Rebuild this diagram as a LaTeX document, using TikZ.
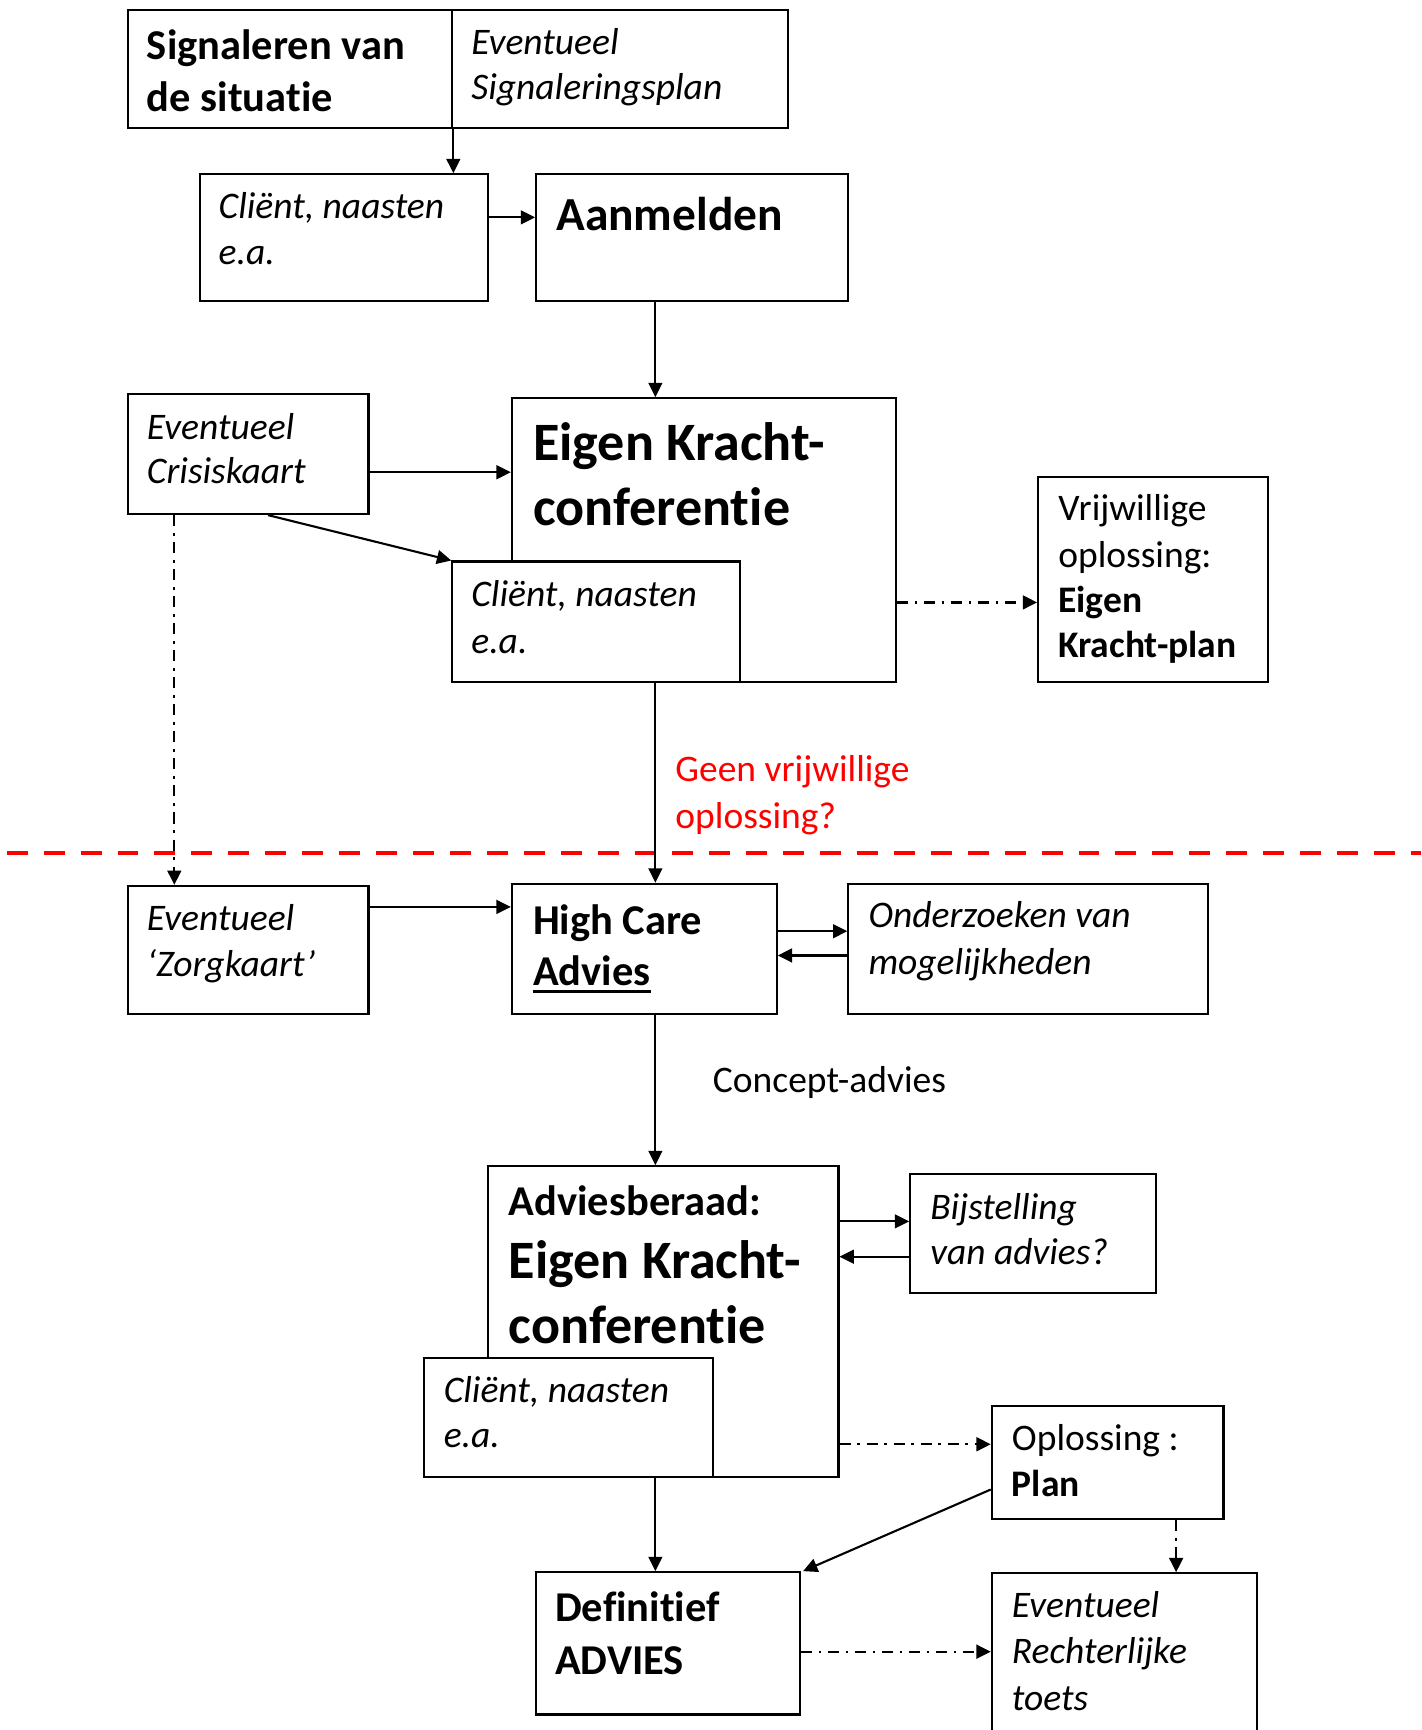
\documentclass[tikz,border=0pt]{standalone}
\usepackage{fontspec}
\setmainfont[Ligatures={NoCommon}]{Carlito}
\usetikzlibrary{arrows.meta,calc}
\newcommand\ulbox[1]{\setbox0\hbox{#1}\rlap{\rule[-7pt]{\wd0}{2.5pt}}\box0}
\begin{document}
\begin{tikzpicture}[x=1pt,y=-1pt,
  box/.style={draw, line width=1.9pt, inner sep=0pt, fill=white, anchor=north west},
  it/.style={anchor=base west, inner sep=0pt, font=\itshape\fontsize{34}{41}\selectfont},
  rg/.style={anchor=base west, inner sep=0pt, font=\fontsize{34}{41}\selectfont},
  bs/.style={anchor=base west, inner sep=0pt, font=\bfseries\fontsize{34}{41}\selectfont},
  bd/.style={anchor=base west, inner sep=0pt, font=\bfseries\fontsize{38.5}{47}\selectfont},
  bm/.style={anchor=base west, inner sep=0pt, font=\bfseries\fontsize{43}{52}\selectfont},
  bb/.style={anchor=base west, inner sep=0pt, font=\bfseries\fontsize{49}{59}\selectfont},
  arr/.style={-{Triangle[length=13pt,width=12.5pt]}, line width=1.9pt},
  dd/.style={arr, line width=2.1pt, dash pattern=on 10pt off 6pt on 2.5pt off 6pt},
  redline/.style={draw=red, line width=3.6pt, dash pattern=on 19pt off 14.5pt}]
\useasboundingbox (0,0) rectangle (1288,1568);
\fill[white] (0,0) rectangle (1288,1568);
\newcommand\bx[5]{\node[box, minimum width={(#4)-(#2)}, minimum height={(#5)-(#3)}] (#1) at (#2,#3) {};}
% boxes
\bx{sig}{115}{8}{409}{115}
\bx{sigp}{409}{8}{713}{115}
\bx{cla}{180}{157}{441}{272}
\bx{aan}{485}{157}{768}{272}
\bx{cris}{115}{356}{333}{465}
\bx{ek}{463}{360}{811}{617}
\bx{clb}{409}{508}{670}{617}
\bx{vrij}{940}{431}{1148}{617}
\bx{zorg}{115}{802}{333}{918}
\bx{hca}{463}{800}{703}{918}
\bx{ond}{768}{800}{1094}{918}
\bx{adv}{441}{1056}{759}{1338}
\bx{bij}{824}{1063}{1047}{1171}
\bx{clc}{383}{1230}{645}{1338}
\bx{opl}{898}{1273}{1108}{1376}
\bx{def}{485}{1424}{724}{1553}
\bx{rech}{898}{1425}{1138}{1580}
% texts
\node[bd] (t1) at (133,54) {Signaleren van};
\node[bd] (t2) at (133,101) {de situatie};
\node[it] (t3) at (427,49) {Eventueel};
\node[it] (t4) at (427,90) {Signaleringsplan};
\node[it] (t5) at (198,198) {Cliënt, naasten};
\node[it] (t6) at (198,240) {e.a.};
\node[bm] (t7) at (504,209) {Aanmelden};
\node[it] (t8) at (133,398) {Eventueel};
\node[it] (t9) at (133,438) {Crisiskaart};
\node[bb] (t10) at (483,417) {Eigen Kracht-};
\node[bb] (t11) at (483,476) {conferentie};
\node[it] (t12) at (427,550) {Cliënt, naasten};
\node[it] (t13) at (427,592) {e.a.};
\node[rg] (t14) at (959,472) {Vrijwillige};
\node[rg] (t15) at (959,514) {oplossing:};
\node[bs] (t16) at (959,555) {Eigen};
\node[bs] (t17) at (959,596) {Kracht-plan};
\node[rg, text=red] (t18) at (612,708) {Geen vrijwillige};
\node[rg, text=red] (t19) at (612,751) {oplossing?};
\node[it] (t20) at (133,843) {Eventueel};
\node[it] (t21) at (133,885) {‘Zorgkaart’};
\node[bd] (t22) at (483,847) {High Care};
\node[bd] (t23) at (483,893) {\ulbox{Advies}};
\node[it] (t24) at (787,841) {Onderzoeken van};
\node[it] (t25) at (787,883) {mogelijkheden};
\node[rg] (t26) at (646,990) {Concept-advies};
\node[bd] (t27) at (461,1102) {Adviesberaad:};
\node[bb] (t28) at (461,1159) {Eigen Kracht-};
\node[bb] (t29) at (461,1218) {conferentie};
\node[it] (t30) at (843,1105) {Bijstelling};
\node[it] (t31) at (843,1146) {van advies?};
\node[it] (t32) at (402,1271) {Cliënt, naasten};
\node[it] (t33) at (402,1312) {e.a.};
\node[rg] (t34) at (917,1315) {Oplossing :};
\node[bs] (t35) at (917,1356) {Plan};
\node[bd] (t36) at (503,1470) {Definitief};
\node[bd] (t37) at (503,1518) {ADVIES};
\node[it] (t38) at (917,1466) {Eventueel};
\node[it] (t39) at (917,1508) {Rechterlijke};
\node[it] (t40) at (917,1550) {toets};
% red dashed separation line
\coordinate (rl) at (6,773);
\coordinate (rr) at (1288,773);
\draw[redline] (rl) -- (rr);
% connector start points
\coordinate (c1) at (sig.south east);
\coordinate (c2) at ($(cla.north east)+(0,40)$);
\coordinate (c3) at ($(aan.south west)+(109,0)$);
\coordinate (c4) at ($(cris.north east)+(0,72)$);
\coordinate (c5) at ($(cris.south west)+(128,0)$);
\coordinate (c6) at ($(cris.south west)+(43,0)$);
\coordinate (c7) at ($(ek.north east)+(0,186)$);
\coordinate (c8) at ($(clb.south west)+(185,0)$);
\coordinate (c9) at ($(zorg.north east)+(0,20)$);
\coordinate (c10) at ($(hca.north east)+(0,44)$);
\coordinate (c11) at ($(ond.north west)+(0,66)$);
\coordinate (c12) at ($(hca.south west)+(131,0)$);
\coordinate (c13) at ($(adv.north east)+(0,51)$);
\coordinate (c14) at ($(bij.north west)+(0,76)$);
\coordinate (c15) at ($(adv.north east)+(0,253)$);
\coordinate (c16) at ($(adv.south west)+(153,0)$);
\coordinate (c17) at ($(opl.north west)+(0,77)$);
\coordinate (c18) at ($(opl.south west)+(168,0)$);
\coordinate (c19) at ($(def.north east)+(0,73)$);
\coordinate (e17) at ($(def.north east)+(2,0)$);
% connectors
\draw[arr] (c1) -- (c1 |- cla.north);
\draw[arr] (c2) -- (c2 -| aan.west);
\draw[arr] (c3) -- (c3 |- ek.north);
\draw[arr] (c4) -- (c4 -| ek.west);
\draw[arr] (c5) -- (clb.north west);
\draw[dd] (c6) -- (c6 |- zorg.north);
\draw[dd] (c7) -- (c7 -| vrij.west);
\draw[arr] (c8) -- (c8 |- hca.north);
\draw[arr] (c9) -- (c9 -| hca.west);
\draw[arr] (c10) -- (c10 -| ond.west);
\draw[arr] (c11) -- (c11 -| hca.east);
\draw[arr] (c12) -- (c12 |- adv.north);
\draw[arr] (c13) -- (c13 -| bij.west);
\draw[arr] (c14) -- (c14 -| adv.east);
\draw[dd] (c15) -- (c15 -| opl.west);
\draw[arr] (c16) -- (c16 |- def.north);
\draw[arr] (c17) -- (e17);
\draw[dd] (c18) -- (c18 |- rech.north);
\draw[dd] (c19) -- (c19 -| rech.west);
\end{tikzpicture}
\end{document}
